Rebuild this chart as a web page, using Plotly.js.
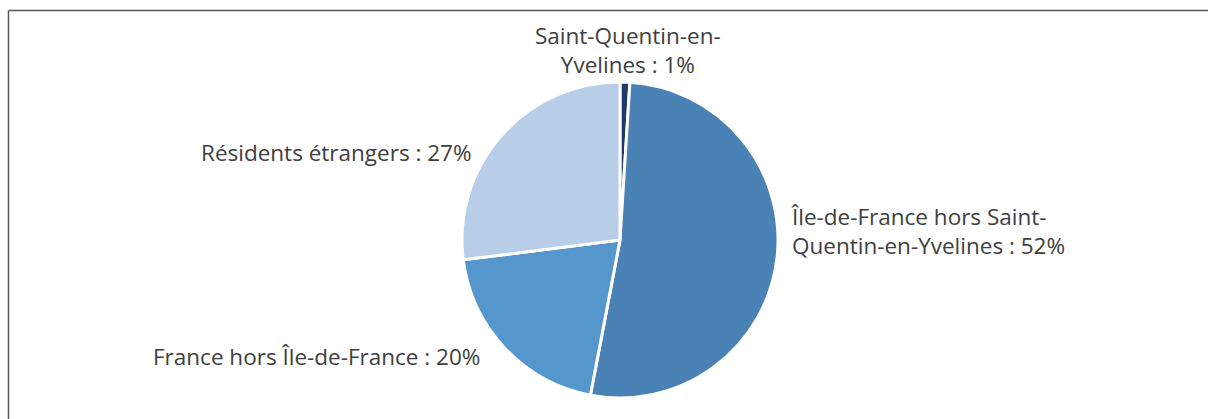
<!DOCTYPE html>
<html>
<head>
<meta charset="utf-8">
<script src="https://cdn.plot.ly/plotly-3.0.1.min.js"></script>
<style>html,body{margin:0;padding:0;background:#fff;}#chart{width:1208px;height:419px;}</style>
</head>
<body>
<div id="chart"></div>
<script>
const categories = ["Saint-Quentin-en-Yvelines", "Île-de-France hors Saint-Quentin-en-Yvelines", "France hors Île-de-France", "Résidents étrangers"];
const values = [1, 52, 20, 27];
const labelTexts = ["Saint-Quentin-en-<br>Yvelines : 1%", "Île-de-France hors Saint-<br>Quentin-en-Yvelines : 52%", "France hors Île-de-France : 20%", "Résidents étrangers : 27%"];
const colors = ["#1f3b66", "#4b82b5", "#5596cd", "#b8cde8"];

const W = 1208, H = 419;
const px = x => x / W;
const py = y => 1 - y / H;

const trace = {
  type: "pie",
  labels: categories,
  values: values,
  sort: false,
  direction: "clockwise",
  rotation: 0,
  textinfo: "none",
  hoverinfo: "label+percent",
  marker: { colors: colors, line: { color: "#ffffff", width: 3 } },
  domain: { x: [px(461), px(779)], y: [py(398), py(82)] },
  showlegend: false
};

const font = { family: "Open Sans, Noto Sans, sans-serif", size: 22.5, color: "#404040" };
const annotations = [
  { x: px(628), y: py(50), text: labelTexts[0], xanchor: "center", yanchor: "middle", align: "center" },
  { x: px(789), y: py(231), text: labelTexts[1], xanchor: "left", yanchor: "middle", align: "left" },
  { x: px(482), y: py(356), text: labelTexts[2], xanchor: "right", yanchor: "middle", align: "right" },
  { x: px(474), y: py(152), text: labelTexts[3], xanchor: "right", yanchor: "middle", align: "right" }
].map(a => Object.assign({ xref: "paper", yref: "paper", showarrow: false, font: font }, a));

const layout = {
  width: W, height: H,
  margin: { l: 0, r: 0, t: 0, b: 0 },
  paper_bgcolor: "#ffffff",
  annotations: annotations,
  shapes: [
    { type: "line", xref: "paper", yref: "paper", x0: px(8.5), x1: px(1210), y0: py(10.5), y1: py(10.5), line: { color: "#595959", width: 1.5 } },
    { type: "line", xref: "paper", yref: "paper", x0: px(8.5), x1: px(8.5), y0: py(10.5), y1: py(425), line: { color: "#595959", width: 1.5 } }
  ]
};

Plotly.newPlot("chart", [trace], layout, { displayModeBar: false, staticPlot: true });
</script>
</body>
</html>
